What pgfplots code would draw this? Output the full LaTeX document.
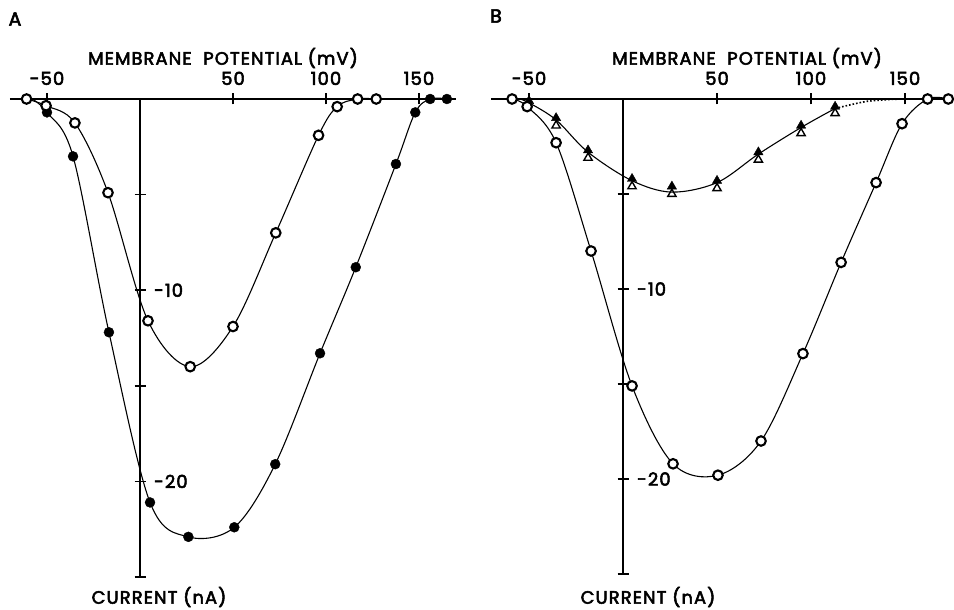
\documentclass[border=0pt]{standalone}
\usepackage{pgfplots}
\pgfplotsset{compat=1.18}
\usepackage{fontspec}
\setmainfont{Poppins}[LetterSpace=6, BoldFont={Poppins}, BoldFeatures={FakeBold=3}]
\begin{document}
\begin{tikzpicture}
\pgfplotsset{
  panel/.style={
    scale only axis,
    clip=false,
    axis lines=middle,
    axis line style={-, line width=1.8pt},
    ymin=-25, ymax=0,
    xtick={-50,0,50,100,150},
    xticklabels={-50,0,50,100,150},
    ytick={-5,-10,-15,-20,-25},
    yticklabels={,-10,,-20,},
    tick align=center,
    major tick length=11bp,
    tick style={line width=1.6pt, black},
    /pgf/number format/assume math mode=true,
    ticklabel style={font=\fontsize{18}{19}\selectfont\bfseries},
    xticklabel style={anchor=south, yshift=16bp},
    yticklabel style={anchor=west, xshift=16bp},
    curve/.style={black, line width=1.1pt, smooth, tension=0.55, no markers},
    opencirc/.style={only marks, mark=*, mark size=4.8pt, mark options={fill=white, draw=black, line width=2.1pt}},
    fillcirc/.style={only marks, mark=*, mark size=5pt, mark options={fill=black, draw=black}},
  }
}
% Panel A
\begin{axis}[panel, at={(9.8bp,33bp)}, anchor=south west,
  width=446.4bp, height=478bp, xmin=-70, xmax=170]
\addplot[curve] coordinates {(-61,0) (-50.5,-0.35) (-35,-1.25) (-17.2,-4.9) (4.3,-11.6) (27,-14.0) (50,-11.9) (73,-7.0) (96,-1.9) (106,-0.4) (117,0) (127,0)};
\addplot[curve] coordinates {(-58,0) (-50,-0.7) (-36,-3.0) (-16.7,-12.2) (5.4,-21.1) (26,-22.9) (50.7,-22.4) (72.7,-19.1) (96.8,-13.3) (116,-8.8) (137.6,-3.4) (148,-0.7) (156,0) (165,0)};
\addplot[fillcirc] coordinates {(-50,-0.7) (-36,-3.0) (-16.7,-12.2) (5.4,-21.1) (26,-22.9) (50.7,-22.4) (72.7,-19.1) (96.8,-13.3) (116,-8.8) (137.6,-3.4) (148,-0.7) (156,0) (165,0)};
\addplot[opencirc] coordinates {(-61,0) (-50.5,-0.35) (-35,-1.25) (-17.2,-4.9) (4.3,-11.6) (27,-14.0) (50,-11.9) (73,-7.0) (96,-1.9) (106,-0.4) (117,0) (127,0)};
\end{axis}
% Panel B
\begin{axis}[panel, at={(491.4bp,36bp)}, anchor=south west,
  width=455bp, height=475bp, xmin=-70, xmax=172]
\addplot[curve] coordinates {(-59,0) (-51,-0.4) (-35.6,-2.3) (-17,-8.0) (4.8,-15.1) (26.6,-19.2) (50.5,-19.8) (73.4,-18.0) (95.7,-13.4) (116,-8.6) (134.6,-4.4) (148.4,-1.3) (162,0) (173,0)};
\addplot[curve] coordinates {(-55,0) (-50,-0.2) (-35.6,-1.1) (-18.6,-2.8) (4.8,-4.3) (26,-4.9) (50,-4.4) (72,-2.9) (94.7,-1.5) (112.8,-0.5)};
\addplot[black, line width=1.6pt, dotted, smooth, no markers] coordinates {(112.8,-0.5) (130,-0.12) (148,0)};
\addplot[only marks, mark=triangle, mark size=4.8pt, mark options={line width=1.4pt, black}] coordinates {(-35.6,-1.4) (-18.6,-3.1) (4.8,-4.6) (26,-5.0) (50,-4.7) (72,-3.2) (94.7,-1.8) (112.8,-0.75)};
\addplot[only marks, mark=triangle*, mark size=5.4pt, mark options={fill=black, draw=black}] coordinates {(-50,-0.1) (-35.6,-1.0) (-18.6,-2.7) (4.8,-4.2) (26,-4.6) (50,-4.3) (72,-2.8) (94.7,-1.4) (112.8,-0.4)};
\addplot[opencirc] coordinates {(-59,0) (-51,-0.4) (-35.6,-2.3) (-17,-8.0) (4.8,-15.1) (26.6,-19.2) (50.5,-19.8) (73.4,-18.0) (95.7,-13.4) (116,-8.6) (134.6,-4.4) (148.4,-1.3) (162,0) (173,0)};
\end{axis}
% texts
\node[font=\fontsize{19}{20}\selectfont\bfseries] at (15bp,591bp) {A};
\node[font=\fontsize{19}{20}\selectfont\bfseries] at (496bp,594bp) {B};
\node[font=\fontsize{18}{19}\selectfont\bfseries] at (223bp,552bp) {MEMBRANE\ \ POTENTIAL\ (mV)};
\node[font=\fontsize{18}{19}\selectfont\bfseries] at (747bp,552bp) {MEMBRANE\ \ POTENTIAL\ (mV)};
\node[font=\fontsize{18}{19}\selectfont\bfseries] at (159bp,13bp) {CURRENT\ (nA)};
\node[font=\fontsize{18}{19}\selectfont\bfseries] at (648bp,13bp) {CURRENT\ (nA)};
\pgfresetboundingbox
\path[use as bounding box] (0,0) rectangle (954bp,610bp);
\end{tikzpicture}
\end{document}
